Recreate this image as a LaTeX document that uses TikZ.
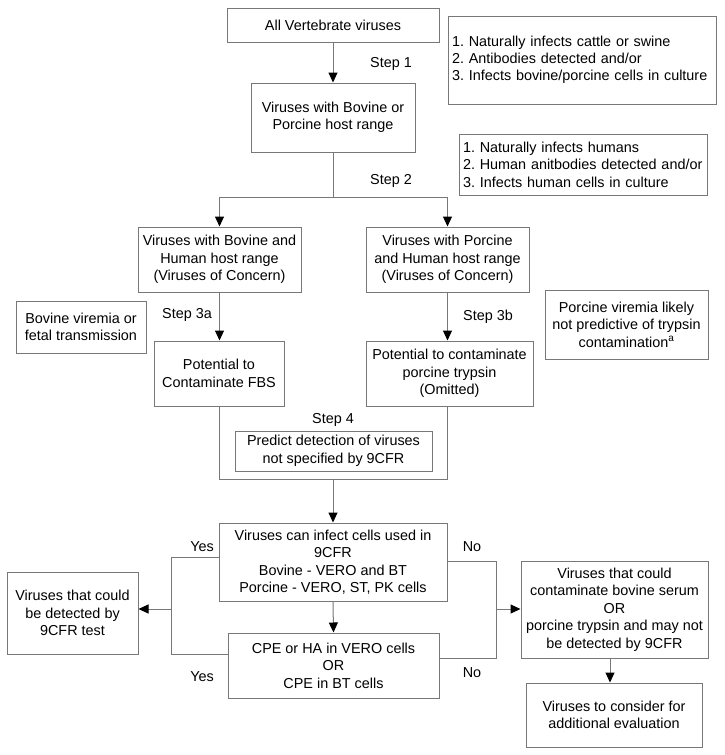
\documentclass[tikz,border=0pt]{standalone}
\usepackage{fontspec}
\setmainfont{Liberation Sans}
\usetikzlibrary{arrows.meta}
\definecolor{linegray}{RGB}{120,120,120}
\frenchspacing
\begin{document}
\begin{tikzpicture}[x=1pt,y=1pt,
  every node/.style={font=\fontsize{14.4}{17.5}\selectfont, text=black},
  box/.style={draw=linegray, line width=1pt, inner sep=0pt, align=center},
  lbl/.style={inner sep=0pt},
  conn/.style={draw=linegray, line width=1pt},
  arr/.style={conn, -{Triangle[width=9pt,length=10pt,black]}}
]
\useasboundingbox (0,0) rectangle (724,-755);
\fill[white] (0,0) rectangle (724,-755);

% nodes
\node[box, minimum width=212pt, minimum height=34pt] (v1) at (333,-25) {All Vertebrate viruses};
\node[box, align=left, text width=260pt, inner xsep=4pt, minimum height=88pt,
      font=\fontsize{14.4}{17}\selectfont] (c1) at (582,-60)
  {1. Naturally infects cattle or swine\\2. Antibodies detected and/or\\3. Infects bovine/porcine cells in culture};
\node[box, minimum width=164pt, minimum height=69pt] (v2) at (333,-117.5) {Viruses with Bovine or\\Porcine host range};
\node[box, align=left, text width=240pt, inner xsep=4pt, minimum height=61pt] (c2) at (583,-164.5)
  {1. Naturally infects humans\\2. Human anitbodies detected and/or\\3. Infects human cells in culture};
\node[box, minimum width=163pt, minimum height=65pt] (bh) at (219.5,-259.5) {Viruses with Bovine and\\Human host range\\(Viruses of Concern)};
\node[box, minimum width=163pt, minimum height=65pt] (ph) at (447.5,-259.5) {Viruses with Porcine\\and Human host range\\(Viruses of Concern)};
\node[box, minimum width=130pt, minimum height=52pt] (bvr) at (81,-327) {Bovine viremia or\\fetal transmission};
\node[box, minimum width=130pt, minimum height=65pt] (fbs) at (219,-373.5) {Potential to\\Contaminate FBS};
\node[box, minimum width=167pt, minimum height=65pt] (tryp) at (449.5,-373.5) {Potential to contaminate\\porcine trypsin\\(Omitted)};
\node[box, minimum width=163pt, minimum height=69pt] (pvr) at (626.5,-324.5) {Porcine viremia likely\\not predictive of trypsin\\contamination\textsuperscript{a}};
\node[box, minimum width=197pt, minimum height=40pt] (pred) at (333.5,-451) {Predict detection of viruses\\not specified by 9CFR};
\node[box, minimum width=228pt, minimum height=78pt] (inf) at (333,-562) {Viruses can infect cells used in\\9CFR\\Bovine - VERO and BT\\Porcine - VERO, ST, PK cells};
\node[box, minimum width=131pt, minimum height=82pt] (det) at (72.5,-613) {Viruses that could\\be detected by\\9CFR test};
\node[box, minimum width=211pt, minimum height=65pt] (cpe) at (333.5,-665.5) {CPE or HA in VERO cells\\OR\\CPE in BT cells};
\node[box, minimum width=187pt, minimum height=97pt] (cont) at (614.5,-609.5) {Viruses that could\\contaminate bovine serum\\OR\\porcine trypsin and may not\\be detected by 9CFR};
\node[box, minimum width=176pt, minimum height=64pt] (cons) at (614,-715) {Viruses to consider for\\additional evaluation};

% labels
\node[lbl] (s1) at (391,-64) {Step 1};
\node[lbl] (s2) at (391,-181) {Step 2};
\node[lbl] (s3a) at (187,-315) {Step 3a};
\node[lbl] (s3b) at (488,-317) {Step 3b};
\node[lbl] (s4) at (333,-420) {Step 4};
\node[lbl] (y1) at (202,-547) {Yes};
\node[lbl] (y2) at (202,-677) {Yes};
\node[lbl] (n1) at (472,-547) {No};
\node[lbl] (n2) at (472,-673) {No};

% coordinates
\coordinate (split) at (333,-197);
\coordinate (jl) at (219,-479);
\coordinate (jr) at (447,-479);
\coordinate (jm) at (333,-479);
\coordinate (ly1) at (171,-557);
\coordinate (ly2) at (171,-654);
\coordinate (lyd) at (171,-609);
\coordinate (ry1) at (496,-561);
\coordinate (ry2) at (496,-658);
\coordinate (ryd) at (496,-609);
\coordinate (cx) at (610,0);

% connectors
\draw[arr] (v1.south) -- (v2.north);
\draw[conn] (v2.south) -- (split);
\draw[arr] (split) -| (bh.north);
\draw[arr] (split) -| (ph.north);
\draw[arr] (bh.south) -- (bh.south |- fbs.north);
\draw[arr] (ph.south) -- (ph.south |- tryp.north);
\draw[conn] (fbs.south) -- (jl) -- (jr) -- (jr |- tryp.south);
\draw[arr] (jm) -- (inf.north);
\draw[conn] (inf.west |- ly1) -- (ly1) -- (ly2) -- (cpe.west |- ly2);
\draw[arr] (lyd) -- (det.east |- lyd);
\draw[conn] (inf.east |- ry1) -- (ry1) -- (ry2) -- (cpe.east |- ry2);
\draw[arr] (ryd) -- (cont.west |- ryd);
\draw[arr] (inf.south) -- (cpe.north);
\draw[arr] (cx |- cont.south) -- (cx |- cons.north);
\end{tikzpicture}
\end{document}
